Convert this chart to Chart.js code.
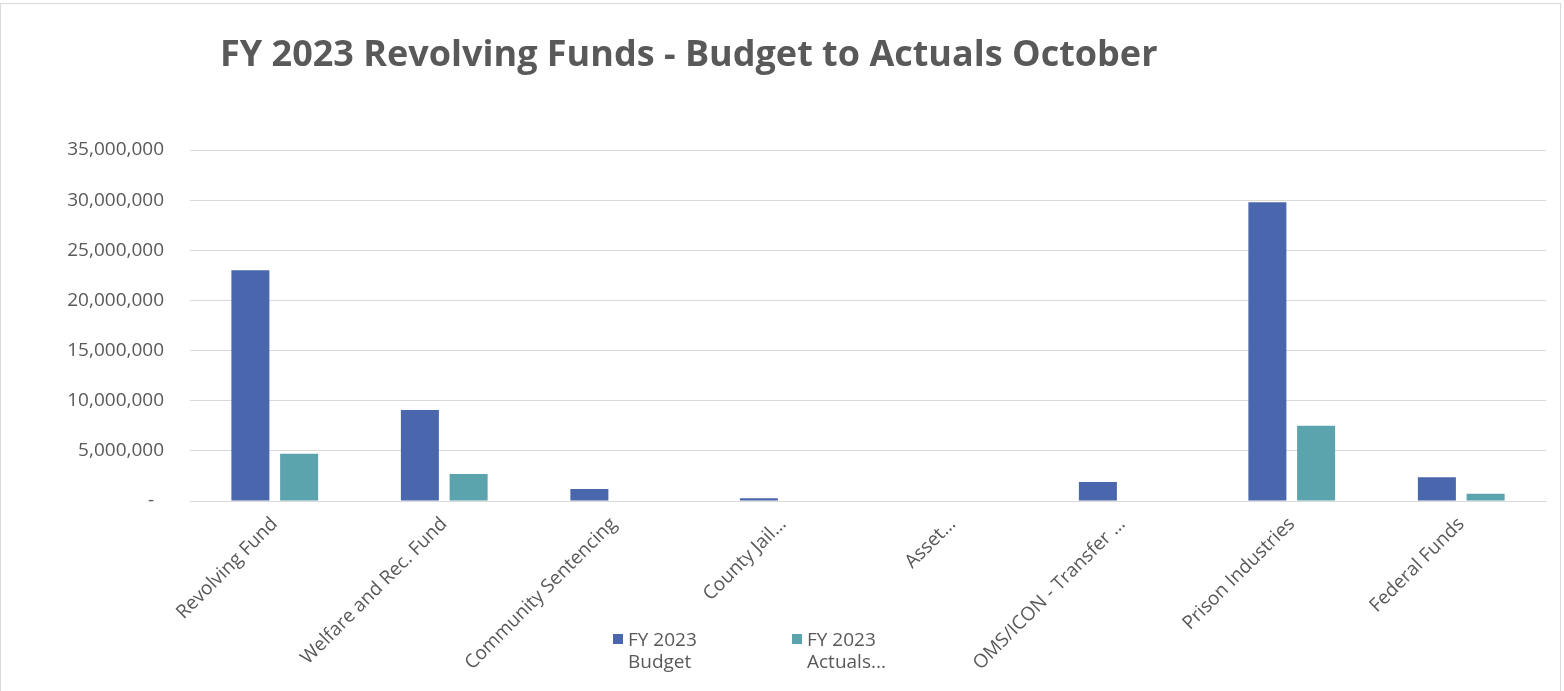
<!DOCTYPE html>
<html>
<head>
<meta charset="utf-8">
<script src="https://cdn.jsdelivr.net/npm/chart.js@4.4.1/dist/chart.umd.min.js"></script>
<style>
  html, body { margin: 0; padding: 0; background: #fff; }
  #wrap { position: relative; width: 1564px; height: 691px; }
  #frame {
    position: absolute; left: 0; top: 3px; width: 1561px; height: 690px;
    border: 1px solid #d9d9d9; box-sizing: border-box; pointer-events: none;
  }
</style>
</head>
<body>
<div id="wrap">
  <canvas id="chart" width="1564" height="691"></canvas>
  <div id="frame"></div>
</div>
<script>
// Data
const chartTitle = "FY 2023 Revolving Funds - Budget to Actuals October";
const categories = [
  "Revolving Fund",
  "Welfare and Rec. Fund",
  "Community Sentencing",
  "County Jail...",
  "Asset...",
  "OMS/ICON - Transfer ...",
  "Prison Industries",
  "Federal Funds"
];
const seriesNames = ["FY 2023 Budget", "FY 2023 Actuals..."];
const budget = [23000000, 9070000, 1200000, 270000, 0, 1900000, 29800000, 2360000];
const actuals = [4700000, 2700000, 0, 0, 0, 0, 7500000, 730000];
const yTicks = [0, 5000000, 10000000, 15000000, 20000000, 25000000, 30000000, 35000000];

const textColor = "#595959";
const fontFamily = "'Open Sans', sans-serif";

// Title + legend drawn by hand so they can sit where Excel put them
const decorPlugin = {
  id: "decor",
  afterDraw(chart) {
    const ctx = chart.ctx;
    ctx.save();
    ctx.fillStyle = textColor;
    ctx.font = "bold 36px " + fontFamily;
    ctx.textAlign = "left";
    ctx.textBaseline = "alphabetic";
    ctx.fillText(chartTitle, 220, 66);

    // legend
    const starts = [613, 792];
    ctx.font = "19px " + fontFamily;
    chart.data.datasets.forEach((ds, i) => {
      const x = starts[i];
      ctx.fillStyle = ds.backgroundColor;
      ctx.fillRect(x, 634, 10, 10);
      ctx.fillStyle = textColor;
      const cut = ds.label.indexOf(" ", 3);
      const lines = [ds.label.slice(0, cut), ds.label.slice(cut + 1)];
      lines.forEach((ln, j) => ctx.fillText(ln, x + 15, 646 + j * 22));
    });
    ctx.restore();
  }
};

new Chart(document.getElementById("chart"), {
  type: "bar",
  data: {
    labels: categories,
    datasets: [
      { label: seriesNames[0], data: budget, backgroundColor: "#4a66ad" },
      { label: seriesNames[1], data: actuals, backgroundColor: "#5ba3ad" }
    ]
  },
  options: {
    responsive: false,
    animation: false,
    devicePixelRatio: 1,
    categoryPercentage: 0.575,
    barPercentage: 0.78,
    layout: { padding: { left: 0, right: 18, top: 150, bottom: 0 } },
    plugins: {
      legend: { display: false },
      title: { display: false },
      tooltip: { enabled: false }
    },
    scales: {
      x: {
        grid: { display: false, drawTicks: false },
        border: { display: true, color: "#d9d9d9", width: 1 },
        ticks: {
          color: textColor,
          font: { family: fontFamily, size: 19 },
          maxRotation: 45,
          minRotation: 45,
          autoSkip: false,
          padding: 12
        },
        afterFit(scale) { scale.height = 190; }
      },
      y: {
        min: 0,
        max: 35000000,
        afterBuildTicks(scale) { scale.ticks = yTicks.map(v => ({ value: v })); },
        grid: { color: "#d9d9d9", drawTicks: false },
        border: { display: false },
        ticks: {
          color: textColor,
          font: { family: fontFamily, size: 19 },
          padding: 26,
          callback: v => v === 0 ? "-  " : v.toLocaleString("en-US")
        },
        afterFit(scale) { scale.width = 190; }
      }
    }
  },
  plugins: [decorPlugin]
});
</script>
</body>
</html>
